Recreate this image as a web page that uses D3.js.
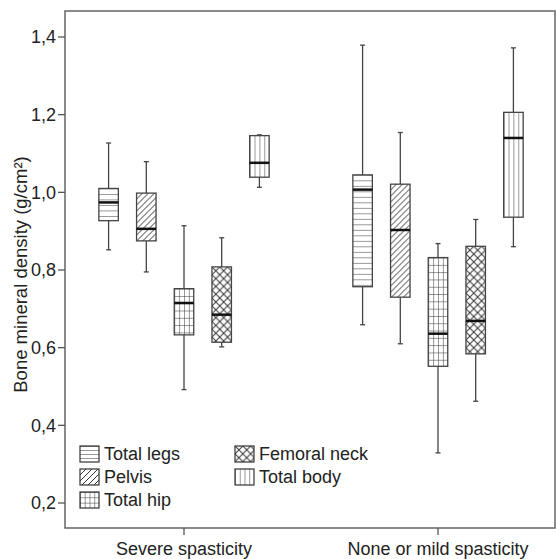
<!DOCTYPE html>
<html><head><meta charset="utf-8">
<script src="https://cdn.jsdelivr.net/npm/d3@7"></script>
<style>
body{margin:0;background:#fff;}
text{font-family:"Liberation Sans",Arial,sans-serif;fill:#222;}
</style></head>
<body><svg id="c" width="556" height="559"></svg>
<script>
const groups = ["Severe spasticity", "None or mild spasticity"];
const series = ["Total legs", "Pelvis", "Total hip", "Femoral neck", "Total body"];
const patternsBySeries = ["hlines", "diag", "grid", "cross", "vlines"];
// [whiskerLow, q1, median, q3, whiskerHigh] for each series, per group
const severeStats = [
  [0.852, 0.927, 0.974, 1.010, 1.127],
  [0.795, 0.875, 0.906, 0.998, 1.079],
  [0.492, 0.633, 0.715, 0.752, 0.914],
  [0.602, 0.614, 0.685, 0.808, 0.883],
  [1.013, 1.039, 1.076, 1.146, 1.148]
];
const mildStats = [
  [0.659, 0.757, 1.007, 1.045, 1.379],
  [0.610, 0.730, 0.903, 1.021, 1.154],
  [0.329, 0.552, 0.636, 0.832, 0.868],
  [0.462, 0.584, 0.669, 0.861, 0.930],
  [0.860, 0.936, 1.140, 1.206, 1.372]
];
const yTicks = [0.2, 0.4, 0.6, 0.8, 1.0, 1.2, 1.4];
const yLabel = "Bone mineral density (g/cm\u00B2)";

const svg = d3.select("#c");
const L = 65, R = 555, T = 11, B = 528;
const y = d3.scaleLinear().domain([0.2, 1.4]).range([503, 37]);
const xg = d3.scalePoint().domain(groups).range([184, 438]);
const xs = d3.scalePoint().domain(series).range([-75.4, 75.4]);
const bw = 19.5;
const defs = svg.append("defs");
const stroke = "#333";

function makePattern(id, type, x0, y0) {
  let p, s;
  if (type === "hlines") {
    s = 5.5;
    p = defs.append("pattern").attr("id", id).attr("patternUnits", "userSpaceOnUse")
      .attr("x", x0).attr("y", y0).attr("width", 10).attr("height", s);
    p.append("rect").attr("width", 10).attr("height", s).attr("fill", "#fff");
    p.append("line").attr("x1", 0).attr("x2", 10).attr("y1", 0).attr("y2", 0).attr("stroke", stroke).attr("stroke-width", 1);
  } else if (type === "vlines") {
    s = bw / 4;
    p = defs.append("pattern").attr("id", id).attr("patternUnits", "userSpaceOnUse")
      .attr("x", x0).attr("y", y0).attr("width", s).attr("height", 10);
    p.append("rect").attr("width", s).attr("height", 10).attr("fill", "#fff");
    p.append("line").attr("x1", 0).attr("x2", 0).attr("y1", 0).attr("y2", 10).attr("stroke", stroke).attr("stroke-width", 1);
  } else if (type === "grid") {
    const sx = bw / 4, sy = 7.3;
    p = defs.append("pattern").attr("id", id).attr("patternUnits", "userSpaceOnUse")
      .attr("x", x0).attr("y", y0).attr("width", sx).attr("height", sy);
    p.append("rect").attr("width", sx).attr("height", sy).attr("fill", "#fff");
    p.append("line").attr("x1", 0).attr("x2", 0).attr("y1", 0).attr("y2", sy).attr("stroke", stroke).attr("stroke-width", 1);
    p.append("line").attr("x1", 0).attr("x2", sx).attr("y1", 0).attr("y2", 0).attr("stroke", stroke).attr("stroke-width", 1);
  } else if (type === "diag") {
    s = 6;
    p = defs.append("pattern").attr("id", id).attr("patternUnits", "userSpaceOnUse")
      .attr("x", x0).attr("y", y0).attr("width", s).attr("height", s);
    p.append("rect").attr("width", s).attr("height", s).attr("fill", "#fff");
    p.append("path").attr("d", `M-1,${s+1}L${s+1},-1M${-1-s},${s+1}L1,-1M${s-1},${s+1}L${2*s+1},-1`)
      .attr("stroke", stroke).attr("stroke-width", 1);
  } else if (type === "cross") {
    s = bw / 2.5;
    p = defs.append("pattern").attr("id", id).attr("patternUnits", "userSpaceOnUse")
      .attr("x", x0).attr("y", y0).attr("width", s).attr("height", s);
    p.append("rect").attr("width", s).attr("height", s).attr("fill", "#fff");
    p.append("path").attr("d", `M0,0L${s},${s}M${s},0L0,${s}`)
      .attr("stroke", stroke).attr("stroke-width", 1);
  }
}

// frame
svg.append("rect").attr("x", L).attr("y", T).attr("width", R - L).attr("height", B - T)
  .attr("fill", "none").attr("stroke", "#666").attr("stroke-width", 1.5);

// y axis ticks
const yt = svg.append("g");
yTicks.forEach(v => {
  yt.append("line").attr("x1", L - 7).attr("x2", L).attr("y1", y(v)).attr("y2", y(v))
    .attr("stroke", "#555").attr("stroke-width", 1.3);
  yt.append("text").attr("x", L - 9).attr("y", y(v)).attr("dy", "0.36em")
    .attr("text-anchor", "end").attr("font-size", 18)
    .text(d3.format(".1f")(v).replace(".", ","));
});
svg.append("text").attr("transform", `translate(27,${(T + B) / 2 + 5}) rotate(-90)`)
  .attr("text-anchor", "middle").attr("font-size", 18.5).text(yLabel);

// x axis ticks
groups.forEach(g => {
  svg.append("line").attr("x1", xg(g)).attr("x2", xg(g)).attr("y1", B).attr("y2", B + 7)
    .attr("stroke", "#555").attr("stroke-width", 1.3);
  svg.append("text").attr("x", xg(g)).attr("y", B + 27).attr("text-anchor", "middle")
    .attr("font-size", 18).text(g);
});

// boxes
const allStats = [severeStats, mildStats];
groups.forEach((g, gi) => {
  series.forEach((s, si) => {
    const st = allStats[gi][si];
    const cx = xg(g) + xs(s);
    const gEl = svg.append("g");
    gEl.append("line").attr("x1", cx).attr("x2", cx).attr("y1", y(st[4])).attr("y2", y(st[3]))
      .attr("stroke", "#444").attr("stroke-width", 1.3);
    gEl.append("line").attr("x1", cx).attr("x2", cx).attr("y1", y(st[1])).attr("y2", y(st[0]))
      .attr("stroke", "#444").attr("stroke-width", 1.3);
    [st[0], st[4]].forEach(v => gEl.append("line").attr("x1", cx - 2.5).attr("x2", cx + 2.5)
      .attr("y1", y(v)).attr("y2", y(v)).attr("stroke", "#444").attr("stroke-width", 1.3));
    const id = `p${gi}_${si}`;
    makePattern(id, patternsBySeries[si], cx - bw / 2, y(st[3]));
    gEl.append("rect").attr("x", cx - bw / 2).attr("y", y(st[3])).attr("width", bw)
      .attr("height", y(st[1]) - y(st[3])).attr("fill", `url(#${id})`)
      .attr("stroke", "#444").attr("stroke-width", 1.3);
    gEl.append("line").attr("x1", cx - bw / 2).attr("x2", cx + bw / 2).attr("y1", y(st[2])).attr("y2", y(st[2]))
      .attr("stroke", "#111").attr("stroke-width", 2.5);
  });
});

// legend
const legendPos = [[80, 446], [80, 469], [80, 492], [235, 446], [235, 469]];
series.forEach((s, si) => {
  const [lx, ly] = legendPos[si];
  const id = `lp${si}`;
  const w = 19, h = 16;
  makePattern(id, patternsBySeries[si], lx, ly);
  const pat = defs.select(`#${id}`);
  if (patternsBySeries[si] === "hlines") pat.attr("height", h / 4);
  if (patternsBySeries[si] === "vlines" || patternsBySeries[si] === "grid") pat.attr("width", w / 4);
  if (patternsBySeries[si] === "grid") pat.attr("height", h / 3);
  svg.append("rect").attr("x", lx).attr("y", ly).attr("width", w).attr("height", h)
    .attr("fill", `url(#${id})`).attr("stroke", "#333").attr("stroke-width", 1.2);
  svg.append("text").attr("x", lx + 24).attr("y", ly + h / 2).attr("dy", "0.36em")
    .attr("font-size", 18).text(s);
});
</script></body></html>
